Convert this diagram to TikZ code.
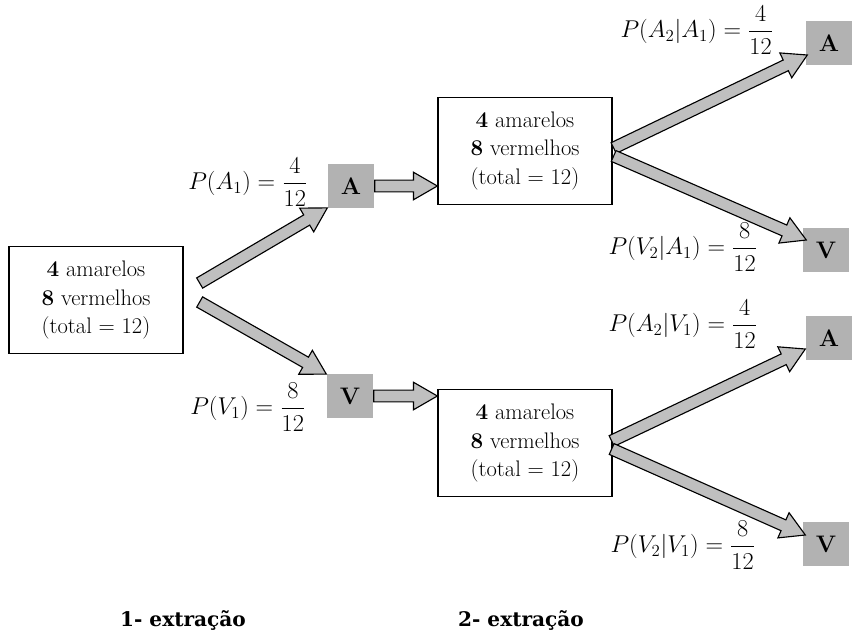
\documentclass[tikz,border=0pt]{standalone}
\usepackage{amsmath}
\usepackage{fontspec}
\newfontfamily\stagefont{DejaVu Serif}
\usetikzlibrary{calc}
\newcommand{\ShaftW}{4.2pt}
\newcommand{\HeadW}{9.8pt}
\newcommand{\HeadLen}{17pt}
\newcommand{\BlockArrow}[2]{%
    \coordinate (neck) at ($(#2)!\HeadLen!(#1)$);
    \filldraw[blockarrow]
        ($(#1)!\ShaftW!90:(#2)$) -- ($(neck)!\ShaftW!90:(#2)$) --
        ($(neck)!\HeadW!90:(#2)$) -- (#2) --
        ($(neck)!\HeadW!-90:(#2)$) -- ($(neck)!\ShaftW!-90:(#2)$) --
        ($(#1)!\ShaftW!-90:(#2)$) -- cycle;
}
\begin{document}
\begin{tikzpicture}[x=0.025cm, y=-0.025cm,
        urn/.style={draw, line width=0.9pt, minimum width=4.35cm, minimum height=2.68cm,
            align=center, font=\fontsize{16}{20}\selectfont},
        ball/.style={fill=gray!60, minimum width=1.17cm, minimum height=1.08cm,
            inner sep=0pt, font=\fontsize{17}{20}\selectfont\bfseries},
        prob/.style={inner sep=0pt, font=\fontsize{16.5}{20}\selectfont},
        stage/.style={font=\fontsize{14.3}{16}\selectfont\stagefont\bfseries},
        blockarrow/.style={fill=gray!50, draw=black, line width=0.8pt, line join=miter}]

        \useasboundingbox (0,0) rectangle (861,632);

        % urns
        \node[urn] (urn0) at (96,300) {\textbf{4} amarelos\\ \textbf{8} vermelhos\\ (total = 12)};
        \node[urn] (urnA) at (525,151) {\textbf{4} amarelos\\ \textbf{8} vermelhos\\ (total = 12)};
        \node[urn] (urnV) at (525,443) {\textbf{4} amarelos\\ \textbf{8} vermelhos\\ (total = 12)};

        % balls drawn
        \node[ball] (A1) at (351,186) {A};
        \node[ball] (V1) at (350,396) {V};
        \node[ball] (A2a) at (829,43) {A};
        \node[ball] (V2a) at (826,250) {V};
        \node[ball] (A2v) at (829,338) {A};
        \node[ball] (V2v) at (826,544) {V};

        % probabilities
        \node[prob] (pA1) at (248,182) {$P(A_1) = \dfrac{4}{12}$};
        \node[prob] (pV1) at (248,407) {$P(V_1) = \dfrac{8}{12}$};
        \node[prob] (pA2a) at (697,30) {$P(A_2|A_1) = \dfrac{4}{12}$};
        \node[prob] (pV2a) at (683,247) {$P(V_2|A_1) = \dfrac{8}{12}$};
        \node[prob] (pA2v) at (683,324) {$P(A_2|V_1) = \dfrac{4}{12}$};
        \node[prob] (pV2v) at (683,545) {$P(V_2|V_1) = \dfrac{8}{12}$};

        % arrow ends
        \coordinate (s0a) at ($(urn0.east)+(16,-17)$);
        \coordinate (s0v) at ($(urn0.east)+(16,2)$);
        \coordinate (tA1) at (A1.east -| urnA.west);
        \coordinate (tV1) at (V1.east -| urnV.west);
        \coordinate (sAa) at ($(urnA.east)+(1,-3)$);
        \coordinate (sAv) at ($(urnA.east)+(1,5)$);
        \coordinate (sVa) at ($(urnV.east)+(-1,-2)$);
        \coordinate (sVv) at ($(urnV.east)+(-1,6)$);
        \coordinate (tA2a) at ($(A2a.west)+(2,12)$);
        \coordinate (tV2a) at ($(V2a.west)+(4,-10)$);
        \coordinate (tA2v) at ($(A2v.west)+(0,11)$);
        \coordinate (tV2v) at ($(V2v.west)+(3,-9)$);

        \BlockArrow{s0a}{A1.south west}
        \BlockArrow{s0v}{V1.north west}
        \BlockArrow{A1.east}{tA1}
        \BlockArrow{V1.east}{tV1}
        \BlockArrow{sAa}{tA2a}
        \BlockArrow{sAv}{tV2a}
        \BlockArrow{sVa}{tA2v}
        \BlockArrow{sVv}{tV2v}

        % stages
        \node[stage] (st1) at (183,620) {1- extração};
        \node[stage] (st2) at (521,620) {2- extração};
    \end{tikzpicture}
\end{document}
